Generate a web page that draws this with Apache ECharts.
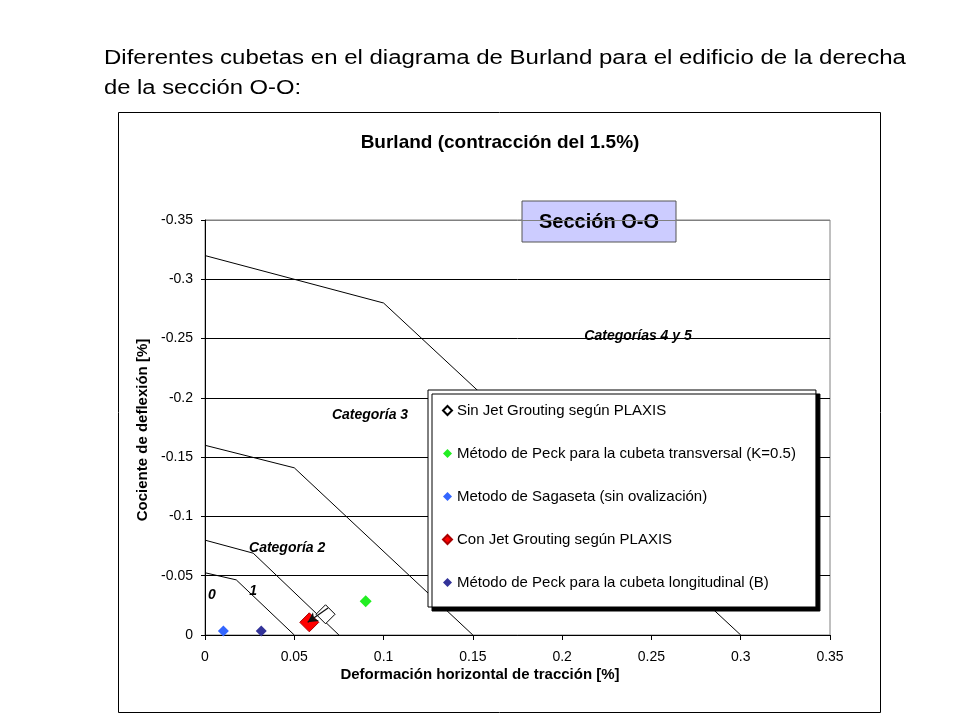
<!DOCTYPE html>
<html><head><meta charset="utf-8">
<script src="https://cdn.jsdelivr.net/npm/echarts@6/dist/echarts.min.js"></script>
<style>html,body{margin:0;padding:0;background:#fff}#c{width:960px;height:720px}</style>
</head><body><div id="c"></div>
<script>
// Category boundary lines [x, y]
var line01 = [[0,-0.0525],[0.0175,-0.0465],[0.05,0]];
var line12 = [[0,-0.08],[0.027,-0.069],[0.075,0]];
var line23 = [[0,-0.16],[0.05,-0.141],[0.15,0]];
var line34 = [[0,-0.32],[0.1,-0.28],[0.3,0]];
// Points
var seriesNames = ['Sin Jet Grouting según PLAXIS','Método de Peck para la cubeta transversal (K=0.5)','Metodo de Sagaseta (sin ovalización)','Con Jet Grouting según PLAXIS','Método de Peck para la cubeta longitudinal (B)'];
var sinJet = [[0.0675,-0.0175]];
var peckT = [[0.090,-0.0284]];
var sagaseta = [[0.0103,-0.0034]];
var conJet = [[0.0584,-0.0107]];
var peckL = [[0.0315,-0.0034]];
var arrowFrom = [0.0689,-0.0228];
var arrowTo = [0.0575,-0.0108];
// Annotations [x, y, text]
var annotations = [[0.2425,-0.252,'Categorías 4 y 5'],[0.0924,-0.1855,'Categoría 3'],[0.046,-0.0734,'Categoría 2'],[0.0269,-0.0371,'1'],[0.0039,-0.0337,'0']];
var xTicks = {min:0,max:0.35,interval:0.05};
var yTicks = {min:-0.35,max:0,interval:0.05};

var F = 'Liberation Sans, Arial, sans-serif';
function lineS(d){return {type:'line',data:d,symbol:'none',silent:true,lineStyle:{color:'#000',width:1},z:2};}
function pt(name,d,color,size,border,bw){return {type:'scatter',name:name,data:d,symbol:'diamond',symbolSize:size,
  itemStyle:{color:color,borderColor:border||color,borderWidth:bw||0,opacity:1},z:5};}

var chart = echarts.init(document.getElementById('c'));
var series = [lineS(line01),lineS(line12),lineS(line23),lineS(line34),
  pt(seriesNames[0],sinJet,'#ffffff',19,'#000',1),
  pt(seriesNames[1],peckT,'#22ee22',12),
  pt(seriesNames[2],sagaseta,'#3366ff',11),
  pt(seriesNames[3],conJet,'#ff0000',19,'#aa0000',1),
  pt(seriesNames[4],peckL,'#333399',11),
  {type:'line',silent:true,z:8,showSymbol:true,showAllSymbol:true,
   lineStyle:{color:'#111',width:1.3},itemStyle:{color:'#111',opacity:1},
   data:[{value:arrowFrom,symbol:'none'},{value:arrowTo,symbol:'arrow',symbolSize:[8,10],symbolRotate:124}]},
  {type:'scatter',data:annotations.map(function(a){return [a[0],a[1],a[2]];}),symbol:'circle',symbolSize:1,silent:true,
   itemStyle:{color:'rgba(0,0,0,0)',opacity:1},
   label:{show:true,position:'inside',formatter:function(p){return p.data[2];},fontFamily:F,fontWeight:'bold',fontStyle:'italic',fontSize:14,color:'#000',opacity:1},z:6}
];
chart.setOption({
  animation:false,
  backgroundColor:'#fff',
  grid:{left:205,right:130,top:220,bottom:85,show:true,borderColor:'#808080',borderWidth:1,backgroundColor:'transparent'},
  xAxis:{type:'value',min:xTicks.min,max:xTicks.max,interval:xTicks.interval,
    axisLine:{show:true,lineStyle:{color:'#000',width:1}},axisTick:{show:true,length:5,lineStyle:{color:'#000'}},
    axisLabel:{fontFamily:F,fontSize:14,color:'#000',margin:15},splitLine:{show:false}},
  yAxis:{type:'value',inverse:true,min:yTicks.min,max:yTicks.max,interval:yTicks.interval,
    axisLine:{show:true,onZero:false,lineStyle:{color:'#000',width:1}},axisTick:{show:true,length:4,lineStyle:{color:'#000'}},
    axisLabel:{fontFamily:F,fontSize:14,color:'#000',margin:12},
    splitLine:{show:true,lineStyle:{color:['#808080','#000','#000','#000','#000','#000','#000','#000'],width:1}}},
  legend:{show:true,data:seriesNames,orient:'vertical',left:428,top:390,padding:[13,20,17,14],itemGap:28,
    itemWidth:9,itemHeight:9,icon:'diamond',backgroundColor:'#fff',borderColor:'#000',borderWidth:1,
    shadowColor:'#000',shadowBlur:0,shadowOffsetX:4,shadowOffsetY:4,
    textStyle:{fontFamily:F,fontSize:15,color:'#000'},selectedMode:false},
  graphic:[
    {type:'rect',shape:{x:118.5,y:112.5,width:762,height:600},style:{fill:'none',stroke:'#000',lineWidth:1},z:0},
    {type:'text',x:104,y:48,scaleX:1.2,style:{text:'Diferentes cubetas en el diagrama de Burland para el edificio de la derecha',font:'20px '+F,fill:'#000'}},
    {type:'text',x:104,y:78,scaleX:1.19,style:{text:'de la sección O-O:',font:'20px '+F,fill:'#000'}},
    {type:'text',x:500,y:143,style:{text:'Burland (contracción del 1.5%)',font:'bold 19px '+F,fill:'#000',textAlign:'center',textVerticalAlign:'middle'}},
    {type:'text',x:480,y:675,style:{text:'Deformación horizontal de tracción [%]',font:'bold 15px '+F,fill:'#000',textAlign:'center',textVerticalAlign:'middle'}},
    {type:'text',x:143,y:430,rotation:Math.PI/2,style:{text:'Cociente de deflexión [%]',font:'bold 15px '+F,fill:'#000',textAlign:'center',textVerticalAlign:'middle'}},
    {type:'group',x:522,y:201,z:10,children:[
      {type:'rect',shape:{width:154,height:41},style:{fill:'#ccccff',stroke:'#555',lineWidth:1}},
      {type:'text',style:{text:'Sección O-O',x:77,y:21,textAlign:'center',textVerticalAlign:'middle',font:'bold 20px '+F,fill:'#000'}}
    ]}
  ],
  series:series
});
</script></body></html>
